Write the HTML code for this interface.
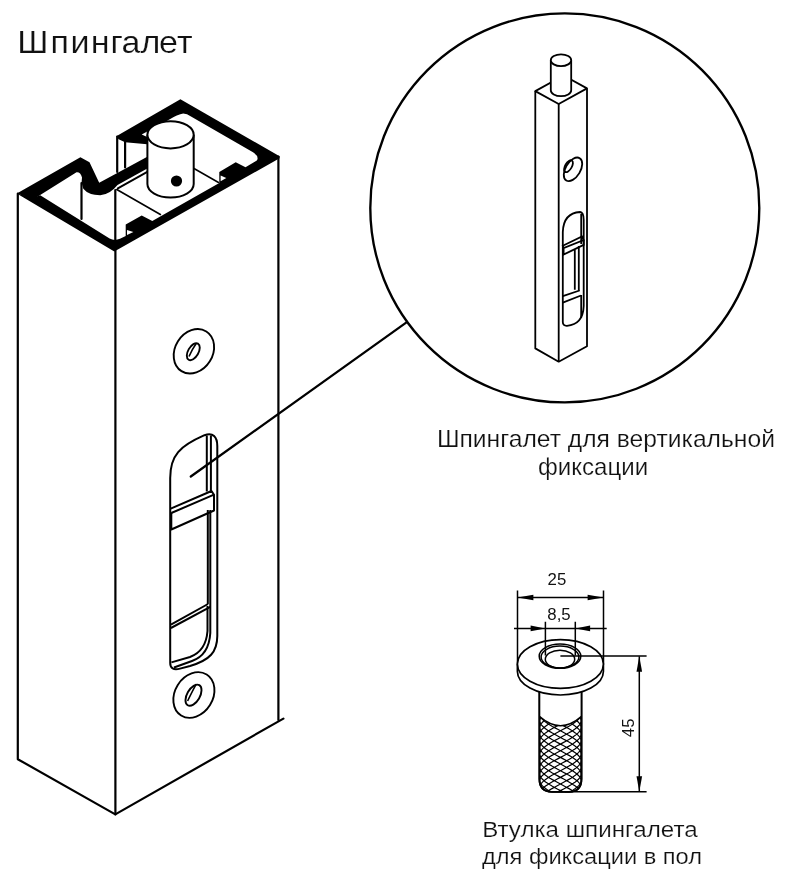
<!DOCTYPE html>
<html><head><meta charset="utf-8">
<style>
html,body{margin:0;padding:0;background:#fff;}
body{width:795px;height:875px;overflow:hidden;position:relative;}
svg{position:absolute;left:0;top:0;}
text{font-family:"Liberation Sans",sans-serif;fill:#111;stroke:#fff;stroke-width:0.2px;}
svg{will-change:transform;}
</style></head><body>
<svg width="795" height="875" viewBox="0 0 795 875">
<!-- Title -->
<text x="16.03 46.70 65.37 84.13 102.24 112.56 130.15 147.34 163.99" y="53" font-size="31.5" transform="scale(1.08,1)">Шпингалет</text>

<!-- ===== MAIN BODY ===== -->
<g fill="none" stroke="#000" stroke-width="2.2" stroke-linejoin="round" stroke-linecap="round">
  <path d="M17.8,193.6 V759.2 L115.3,814.4 L283.4,718.6"/>
  <path d="M115.4,249 V814.4"/>
  <path d="M278.4,156.5 V720"/>
  <!-- inner groove verticals -->
  <path d="M81.5,183 V219"/>
  <path d="M115.3,190 V240"/>
  <path d="M117.2,136.5 V172"/>
  <path d="M125.1,142 V167.5"/>
</g>
<!-- plate lines -->
<g fill="none" stroke="#000" stroke-width="1.6" stroke-linecap="round">
  <path d="M116.8,189.5 L160.4,214.5"/>
  <path d="M117.8,188.4 L147.3,171.8" stroke-width="1.9"/>
  <path d="M194,168.5 L218.5,182.5"/>
</g>

<!-- top profile black fill -->
<path fill="#000" d="M16.8,193.6 L80.4,157.2 L89.5,162.3 L99.2,182.7 L126.1,168.2 L147.3,156.8 L147.3,168.4 L117.5,185 Q110,194.5 100.2,195.3 Q88.5,195.2 83.3,188.8 L81.6,182.5 L82,177.5 Q80.5,171.8 76.5,172.3 L40.2,195 L34,199 Z"/>
<path fill="#000" d="M16.8,193.6 L114.3,251.4 L279.6,158.2 L279.6,156.2 L180.4,99.3 L116.3,136.2 L118.6,139.3 L125.1,142.3 L147.2,144.3 L147.2,137 L141.7,134.4 L168,120.3 Q178,114.2 183.2,113.6 Q187,113.8 191,116.5 L253,152.3 Q259.5,156.5 256.8,160.5 L245.5,167.3 L235.7,162.2 L219.3,172 L219.3,183 L152.3,221 L141.7,215.6 L125.7,224.5 L125.7,236 L120,238.8 Q114.5,241.2 109.6,238.6 L40.2,195.2 L34,197.5 Z"/>
<g fill="#fff" stroke="none">
  <path d="M127,230 L127,235 L133.4,232.1 Z"/>
  <path d="M220.6,175.5 L220.6,181.2 L226.3,178 Z"/>
</g>

<!-- cylinder -->
<g fill="#fff" stroke="#000" stroke-width="2">
  <path d="M147.4,134.8 V184 A23.15,13.6 0 0 0 193.7,184 V134.8"/>
  <ellipse cx="170.55" cy="134.8" rx="23.15" ry="13.6"/>
</g>
<circle cx="176.5" cy="181" r="5.6" fill="#000"/>

<!-- screw holes -->
<g fill="none" stroke="#000" stroke-width="1.9">
  <ellipse cx="193.9" cy="351.3" rx="18.8" ry="23.4" transform="rotate(32 193.9 351.3)"/>
  <ellipse cx="193.3" cy="351.7" rx="5.2" ry="9.3" transform="rotate(30 193.3 351.7)"/>
  <ellipse cx="193.9" cy="695" rx="19" ry="24.1" transform="rotate(32 193.9 695)"/>
  <ellipse cx="193.5" cy="695.2" rx="6.4" ry="11.6" transform="rotate(30 193.5 695.2)"/>
</g>
<g fill="none" stroke="#000" stroke-width="1.6">
  <path d="M189,356.5 Q192.3,349 196.2,343.5"/>
  <path d="M187.6,701 Q192.5,691 196.2,684.2"/>
</g>

<!-- slot -->
<g fill="none" stroke="#000" stroke-width="2" stroke-linejoin="round">
  <path d="M170.2,663 V478 C170.2,455 180,446 204.5,435.2 C213,432 217.3,437 217.3,446 V636 C217.2,652 210,660 190,666 L180,668.6 Q170.2,671 170.2,663 Z"/>
  <path d="M206.8,435.5 V491.5"/>
  <path d="M210.9,435.5 V493"/>
  <path d="M207.8,510 V604"/>
  <path d="M210.3,510 V607"/>
  <path d="M170.7,508.6 L211.5,491 L214,494.7 L171.3,513"/>
  <path d="M171.3,513 V529.5 L214,510.5 V494.7"/>
  <path d="M170.9,624.6 L208,604"/>
  <path d="M170.9,628 L210.3,606.9"/>
  <path d="M207.5,606 V631 Q206,651 190,657 L171.4,662.4"/>
  <path d="M210.3,607 V633 Q209,655 192,661 L174,667.5"/>
</g>
<!-- leader line -->
<path d="M190.8,476.5 L406.5,322.4" stroke="#000" stroke-width="2.3" fill="none" stroke-linecap="round"/>

<!-- ===== BIG CIRCLE ===== -->
<circle cx="564.8" cy="207.9" r="194.5" fill="none" stroke="#000" stroke-width="2.35"/>

<!-- bolt -->
<g fill="none" stroke="#000" stroke-width="1.8" stroke-linejoin="round">
  <path d="M535.3,91.1 V348.4 L558.7,361.7 L587,346.3 V88.4"/>
  <path d="M558.7,104 V361.7"/>
  <path d="M535.3,91.1 L558.7,104 L587,88.4 L563.6,75.5 Z"/>
</g>
<g fill="#fff" stroke="#000" stroke-width="1.8">
  <path d="M550.8,60.2 V90.3 A10.2,5.9 0 0 0 571.2,90.3 V60.2"/>
  <ellipse cx="561" cy="60.2" rx="10.2" ry="5.9"/>
</g>
<g fill="none" stroke="#000" stroke-width="1.8">
  <ellipse cx="573" cy="169.3" rx="7.4" ry="13" transform="rotate(31 573 169.3)"/>
  <ellipse cx="568.5" cy="166.2" rx="3.3" ry="6.6" transform="rotate(31 568.5 166.2)"/>
  <path d="M562.8,322 V232 Q563.5,213 580,212 Q583.7,212.5 583.7,220 V306 Q583,324.5 567,325.8 Q562.8,326 562.8,322 Z"/>
  <path d="M581.2,214 V244 M581.2,295 V318"/>
  <path d="M562.8,245.7 L582,236.5 L583.7,240 L563.6,248 Z M563.6,248 V254.5 L583.7,244.9 V240"/>
  <path d="M562.8,296.2 L579.6,290.5 M562.8,302.6 L581,295.5"/>
  <path d="M574.8,249.7 V289.7 M578.8,246 V291"/>
</g>

<!-- labels -->
<text x="436.9" y="447" font-size="24" textLength="338.04" lengthAdjust="spacingAndGlyphs">Шпингалет для вертикальной</text>
<text x="538" y="475" font-size="24" textLength="110.06" lengthAdjust="spacingAndGlyphs">фиксации</text>

<!-- ===== BUSHING ===== -->
<g fill="none" stroke="#000" stroke-width="1.5">
  <path d="M517.5,590.6 V664 M603.5,590.6 V664"/>
  <path d="M517.5,597.5 H603.5"/>
  <path d="M514,628.4 H606.7"/>
  <path d="M639.3,656.3 V791.8"/>
  <path d="M565,791.8 H646.6"/>
</g>
<g fill="#000">
  <path d="M517.5,597.5 L533.4,594.7 L533.4,600.3 Z"/>
  <path d="M603.5,597.5 L587.6,594.7 L587.6,600.3 Z"/>
  <path d="M545.4,628.4 L530.6,625.6 L530.6,631.2 Z"/>
  <path d="M575.3,628.4 L590.1,625.6 L590.1,631.2 Z"/>
  <path d="M639.3,656.3 L636.5,671.8 L642.1,671.8 Z"/>
  <path d="M639.3,791.8 L636.5,776.3 L642.1,776.3 Z"/>
</g>
<defs><clipPath id="shank"><path d="M539.4,690 V779 Q539.4,791.8 552,791.8 H569 Q581.5,791.8 581.5,779 V690 Z"/></clipPath></defs>
<g fill="#fff" stroke="#000" stroke-width="1.7">
  <path d="M539.4,690 V779 Q539.4,791.8 552,791.8 H569 Q581.5,791.8 581.5,779 V690"/>
</g>
<g clip-path="url(#shank)" fill="none" stroke="#000" stroke-width="1.2">
  <path d="M539.40,633.50 L539.58,634.96 L540.12,636.42 L541.00,637.88 L542.22,639.33 L543.75,640.79 L545.57,642.25 L547.64,643.71 L549.93,645.17 L552.39,646.62 L555.00,648.08 L557.70,649.54 L560.45,651.00 L563.20,652.46 L565.90,653.92 L568.51,655.38 L570.98,656.83 L573.26,658.29 L575.33,659.75 L577.15,661.21 L578.68,662.67 L579.90,664.12 L580.78,665.58 L581.32,667.04 L581.50,668.50 M581.50,633.50 L581.32,634.96 L580.78,636.42 L579.90,637.88 L578.68,639.33 L577.15,640.79 L575.33,642.25 L573.26,643.71 L570.98,645.17 L568.51,646.62 L565.90,648.08 L563.20,649.54 L560.45,651.00 L557.70,652.46 L555.00,653.92 L552.39,655.38 L549.93,656.83 L547.64,658.29 L545.57,659.75 L543.75,661.21 L542.22,662.67 L541.00,664.12 L540.12,665.58 L539.58,667.04 L539.40,668.50 M539.40,640.15 L539.58,641.61 L540.12,643.07 L541.00,644.52 L542.22,645.98 L543.75,647.44 L545.57,648.90 L547.64,650.36 L549.93,651.82 L552.39,653.27 L555.00,654.73 L557.70,656.19 L560.45,657.65 L563.20,659.11 L565.90,660.57 L568.51,662.02 L570.98,663.48 L573.26,664.94 L575.33,666.40 L577.15,667.86 L578.68,669.32 L579.90,670.77 L580.78,672.23 L581.32,673.69 L581.50,675.15 M581.50,640.15 L581.32,641.61 L580.78,643.07 L579.90,644.52 L578.68,645.98 L577.15,647.44 L575.33,648.90 L573.26,650.36 L570.98,651.82 L568.51,653.27 L565.90,654.73 L563.20,656.19 L560.45,657.65 L557.70,659.11 L555.00,660.57 L552.39,662.02 L549.93,663.48 L547.64,664.94 L545.57,666.40 L543.75,667.86 L542.22,669.32 L541.00,670.77 L540.12,672.23 L539.58,673.69 L539.40,675.15 M539.40,646.80 L539.58,648.26 L540.12,649.72 L541.00,651.17 L542.22,652.63 L543.75,654.09 L545.57,655.55 L547.64,657.01 L549.93,658.47 L552.39,659.92 L555.00,661.38 L557.70,662.84 L560.45,664.30 L563.20,665.76 L565.90,667.22 L568.51,668.67 L570.98,670.13 L573.26,671.59 L575.33,673.05 L577.15,674.51 L578.68,675.97 L579.90,677.42 L580.78,678.88 L581.32,680.34 L581.50,681.80 M581.50,646.80 L581.32,648.26 L580.78,649.72 L579.90,651.17 L578.68,652.63 L577.15,654.09 L575.33,655.55 L573.26,657.01 L570.98,658.47 L568.51,659.92 L565.90,661.38 L563.20,662.84 L560.45,664.30 L557.70,665.76 L555.00,667.22 L552.39,668.67 L549.93,670.13 L547.64,671.59 L545.57,673.05 L543.75,674.51 L542.22,675.97 L541.00,677.42 L540.12,678.88 L539.58,680.34 L539.40,681.80 M539.40,653.45 L539.58,654.91 L540.12,656.37 L541.00,657.83 L542.22,659.28 L543.75,660.74 L545.57,662.20 L547.64,663.66 L549.93,665.12 L552.39,666.58 L555.00,668.03 L557.70,669.49 L560.45,670.95 L563.20,672.41 L565.90,673.87 L568.51,675.33 L570.98,676.78 L573.26,678.24 L575.33,679.70 L577.15,681.16 L578.68,682.62 L579.90,684.08 L580.78,685.53 L581.32,686.99 L581.50,688.45 M581.50,653.45 L581.32,654.91 L580.78,656.37 L579.90,657.83 L578.68,659.28 L577.15,660.74 L575.33,662.20 L573.26,663.66 L570.98,665.12 L568.51,666.58 L565.90,668.03 L563.20,669.49 L560.45,670.95 L557.70,672.41 L555.00,673.87 L552.39,675.33 L549.93,676.78 L547.64,678.24 L545.57,679.70 L543.75,681.16 L542.22,682.62 L541.00,684.08 L540.12,685.53 L539.58,686.99 L539.40,688.45 M539.40,660.10 L539.58,661.56 L540.12,663.02 L541.00,664.48 L542.22,665.93 L543.75,667.39 L545.57,668.85 L547.64,670.31 L549.93,671.77 L552.39,673.23 L555.00,674.68 L557.70,676.14 L560.45,677.60 L563.20,679.06 L565.90,680.52 L568.51,681.98 L570.98,683.43 L573.26,684.89 L575.33,686.35 L577.15,687.81 L578.68,689.27 L579.90,690.73 L580.78,692.18 L581.32,693.64 L581.50,695.10 M581.50,660.10 L581.32,661.56 L580.78,663.02 L579.90,664.48 L578.68,665.93 L577.15,667.39 L575.33,668.85 L573.26,670.31 L570.98,671.77 L568.51,673.23 L565.90,674.68 L563.20,676.14 L560.45,677.60 L557.70,679.06 L555.00,680.52 L552.39,681.98 L549.93,683.43 L547.64,684.89 L545.57,686.35 L543.75,687.81 L542.22,689.27 L541.00,690.73 L540.12,692.18 L539.58,693.64 L539.40,695.10 M539.40,666.75 L539.58,668.21 L540.12,669.67 L541.00,671.12 L542.22,672.58 L543.75,674.04 L545.57,675.50 L547.64,676.96 L549.93,678.42 L552.39,679.88 L555.00,681.33 L557.70,682.79 L560.45,684.25 L563.20,685.71 L565.90,687.17 L568.51,688.62 L570.98,690.08 L573.26,691.54 L575.33,693.00 L577.15,694.46 L578.68,695.92 L579.90,697.38 L580.78,698.83 L581.32,700.29 L581.50,701.75 M581.50,666.75 L581.32,668.21 L580.78,669.67 L579.90,671.12 L578.68,672.58 L577.15,674.04 L575.33,675.50 L573.26,676.96 L570.98,678.42 L568.51,679.88 L565.90,681.33 L563.20,682.79 L560.45,684.25 L557.70,685.71 L555.00,687.17 L552.39,688.62 L549.93,690.08 L547.64,691.54 L545.57,693.00 L543.75,694.46 L542.22,695.92 L541.00,697.38 L540.12,698.83 L539.58,700.29 L539.40,701.75 M539.40,673.40 L539.58,674.86 L540.12,676.32 L541.00,677.77 L542.22,679.23 L543.75,680.69 L545.57,682.15 L547.64,683.61 L549.93,685.07 L552.39,686.52 L555.00,687.98 L557.70,689.44 L560.45,690.90 L563.20,692.36 L565.90,693.82 L568.51,695.27 L570.98,696.73 L573.26,698.19 L575.33,699.65 L577.15,701.11 L578.68,702.57 L579.90,704.02 L580.78,705.48 L581.32,706.94 L581.50,708.40 M581.50,673.40 L581.32,674.86 L580.78,676.32 L579.90,677.77 L578.68,679.23 L577.15,680.69 L575.33,682.15 L573.26,683.61 L570.98,685.07 L568.51,686.52 L565.90,687.98 L563.20,689.44 L560.45,690.90 L557.70,692.36 L555.00,693.82 L552.39,695.27 L549.93,696.73 L547.64,698.19 L545.57,699.65 L543.75,701.11 L542.22,702.57 L541.00,704.02 L540.12,705.48 L539.58,706.94 L539.40,708.40 M539.40,680.05 L539.58,681.51 L540.12,682.97 L541.00,684.42 L542.22,685.88 L543.75,687.34 L545.57,688.80 L547.64,690.26 L549.93,691.72 L552.39,693.17 L555.00,694.63 L557.70,696.09 L560.45,697.55 L563.20,699.01 L565.90,700.47 L568.51,701.92 L570.98,703.38 L573.26,704.84 L575.33,706.30 L577.15,707.76 L578.68,709.22 L579.90,710.67 L580.78,712.13 L581.32,713.59 L581.50,715.05 M581.50,680.05 L581.32,681.51 L580.78,682.97 L579.90,684.42 L578.68,685.88 L577.15,687.34 L575.33,688.80 L573.26,690.26 L570.98,691.72 L568.51,693.17 L565.90,694.63 L563.20,696.09 L560.45,697.55 L557.70,699.01 L555.00,700.47 L552.39,701.92 L549.93,703.38 L547.64,704.84 L545.57,706.30 L543.75,707.76 L542.22,709.22 L541.00,710.67 L540.12,712.13 L539.58,713.59 L539.40,715.05 M539.40,686.70 L539.58,688.16 L540.12,689.62 L541.00,691.08 L542.22,692.53 L543.75,693.99 L545.57,695.45 L547.64,696.91 L549.93,698.37 L552.39,699.83 L555.00,701.28 L557.70,702.74 L560.45,704.20 L563.20,705.66 L565.90,707.12 L568.51,708.58 L570.98,710.03 L573.26,711.49 L575.33,712.95 L577.15,714.41 L578.68,715.87 L579.90,717.33 L580.78,718.78 L581.32,720.24 L581.50,721.70 M581.50,686.70 L581.32,688.16 L580.78,689.62 L579.90,691.08 L578.68,692.53 L577.15,693.99 L575.33,695.45 L573.26,696.91 L570.98,698.37 L568.51,699.83 L565.90,701.28 L563.20,702.74 L560.45,704.20 L557.70,705.66 L555.00,707.12 L552.39,708.58 L549.93,710.03 L547.64,711.49 L545.57,712.95 L543.75,714.41 L542.22,715.87 L541.00,717.33 L540.12,718.78 L539.58,720.24 L539.40,721.70 M539.40,693.35 L539.58,694.81 L540.12,696.27 L541.00,697.73 L542.22,699.18 L543.75,700.64 L545.57,702.10 L547.64,703.56 L549.93,705.02 L552.39,706.48 L555.00,707.93 L557.70,709.39 L560.45,710.85 L563.20,712.31 L565.90,713.77 L568.51,715.23 L570.98,716.68 L573.26,718.14 L575.33,719.60 L577.15,721.06 L578.68,722.52 L579.90,723.98 L580.78,725.43 L581.32,726.89 L581.50,728.35 M581.50,693.35 L581.32,694.81 L580.78,696.27 L579.90,697.73 L578.68,699.18 L577.15,700.64 L575.33,702.10 L573.26,703.56 L570.98,705.02 L568.51,706.48 L565.90,707.93 L563.20,709.39 L560.45,710.85 L557.70,712.31 L555.00,713.77 L552.39,715.23 L549.93,716.68 L547.64,718.14 L545.57,719.60 L543.75,721.06 L542.22,722.52 L541.00,723.98 L540.12,725.43 L539.58,726.89 L539.40,728.35 M539.40,700.00 L539.58,701.46 L540.12,702.92 L541.00,704.38 L542.22,705.83 L543.75,707.29 L545.57,708.75 L547.64,710.21 L549.93,711.67 L552.39,713.12 L555.00,714.58 L557.70,716.04 L560.45,717.50 L563.20,718.96 L565.90,720.42 L568.51,721.88 L570.98,723.33 L573.26,724.79 L575.33,726.25 L577.15,727.71 L578.68,729.17 L579.90,730.62 L580.78,732.08 L581.32,733.54 L581.50,735.00 M581.50,700.00 L581.32,701.46 L580.78,702.92 L579.90,704.38 L578.68,705.83 L577.15,707.29 L575.33,708.75 L573.26,710.21 L570.98,711.67 L568.51,713.12 L565.90,714.58 L563.20,716.04 L560.45,717.50 L557.70,718.96 L555.00,720.42 L552.39,721.88 L549.93,723.33 L547.64,724.79 L545.57,726.25 L543.75,727.71 L542.22,729.17 L541.00,730.62 L540.12,732.08 L539.58,733.54 L539.40,735.00 M539.40,706.65 L539.58,708.11 L540.12,709.57 L541.00,711.02 L542.22,712.48 L543.75,713.94 L545.57,715.40 L547.64,716.86 L549.93,718.32 L552.39,719.77 L555.00,721.23 L557.70,722.69 L560.45,724.15 L563.20,725.61 L565.90,727.07 L568.51,728.52 L570.98,729.98 L573.26,731.44 L575.33,732.90 L577.15,734.36 L578.68,735.82 L579.90,737.27 L580.78,738.73 L581.32,740.19 L581.50,741.65 M581.50,706.65 L581.32,708.11 L580.78,709.57 L579.90,711.02 L578.68,712.48 L577.15,713.94 L575.33,715.40 L573.26,716.86 L570.98,718.32 L568.51,719.77 L565.90,721.23 L563.20,722.69 L560.45,724.15 L557.70,725.61 L555.00,727.07 L552.39,728.52 L549.93,729.98 L547.64,731.44 L545.57,732.90 L543.75,734.36 L542.22,735.82 L541.00,737.27 L540.12,738.73 L539.58,740.19 L539.40,741.65 M539.40,713.30 L539.58,714.76 L540.12,716.22 L541.00,717.67 L542.22,719.13 L543.75,720.59 L545.57,722.05 L547.64,723.51 L549.93,724.97 L552.39,726.42 L555.00,727.88 L557.70,729.34 L560.45,730.80 L563.20,732.26 L565.90,733.72 L568.51,735.17 L570.98,736.63 L573.26,738.09 L575.33,739.55 L577.15,741.01 L578.68,742.47 L579.90,743.92 L580.78,745.38 L581.32,746.84 L581.50,748.30 M581.50,713.30 L581.32,714.76 L580.78,716.22 L579.90,717.67 L578.68,719.13 L577.15,720.59 L575.33,722.05 L573.26,723.51 L570.98,724.97 L568.51,726.42 L565.90,727.88 L563.20,729.34 L560.45,730.80 L557.70,732.26 L555.00,733.72 L552.39,735.17 L549.93,736.63 L547.64,738.09 L545.57,739.55 L543.75,741.01 L542.22,742.47 L541.00,743.92 L540.12,745.38 L539.58,746.84 L539.40,748.30 M539.40,719.95 L539.58,721.41 L540.12,722.87 L541.00,724.33 L542.22,725.78 L543.75,727.24 L545.57,728.70 L547.64,730.16 L549.93,731.62 L552.39,733.08 L555.00,734.53 L557.70,735.99 L560.45,737.45 L563.20,738.91 L565.90,740.37 L568.51,741.83 L570.98,743.28 L573.26,744.74 L575.33,746.20 L577.15,747.66 L578.68,749.12 L579.90,750.58 L580.78,752.03 L581.32,753.49 L581.50,754.95 M581.50,719.95 L581.32,721.41 L580.78,722.87 L579.90,724.33 L578.68,725.78 L577.15,727.24 L575.33,728.70 L573.26,730.16 L570.98,731.62 L568.51,733.08 L565.90,734.53 L563.20,735.99 L560.45,737.45 L557.70,738.91 L555.00,740.37 L552.39,741.83 L549.93,743.28 L547.64,744.74 L545.57,746.20 L543.75,747.66 L542.22,749.12 L541.00,750.58 L540.12,752.03 L539.58,753.49 L539.40,754.95 M539.40,726.60 L539.58,728.06 L540.12,729.52 L541.00,730.98 L542.22,732.43 L543.75,733.89 L545.57,735.35 L547.64,736.81 L549.93,738.27 L552.39,739.73 L555.00,741.18 L557.70,742.64 L560.45,744.10 L563.20,745.56 L565.90,747.02 L568.51,748.48 L570.98,749.93 L573.26,751.39 L575.33,752.85 L577.15,754.31 L578.68,755.77 L579.90,757.23 L580.78,758.68 L581.32,760.14 L581.50,761.60 M581.50,726.60 L581.32,728.06 L580.78,729.52 L579.90,730.98 L578.68,732.43 L577.15,733.89 L575.33,735.35 L573.26,736.81 L570.98,738.27 L568.51,739.73 L565.90,741.18 L563.20,742.64 L560.45,744.10 L557.70,745.56 L555.00,747.02 L552.39,748.48 L549.93,749.93 L547.64,751.39 L545.57,752.85 L543.75,754.31 L542.22,755.77 L541.00,757.23 L540.12,758.68 L539.58,760.14 L539.40,761.60 M539.40,733.25 L539.58,734.71 L540.12,736.17 L541.00,737.62 L542.22,739.08 L543.75,740.54 L545.57,742.00 L547.64,743.46 L549.93,744.92 L552.39,746.38 L555.00,747.83 L557.70,749.29 L560.45,750.75 L563.20,752.21 L565.90,753.67 L568.51,755.12 L570.98,756.58 L573.26,758.04 L575.33,759.50 L577.15,760.96 L578.68,762.42 L579.90,763.88 L580.78,765.33 L581.32,766.79 L581.50,768.25 M581.50,733.25 L581.32,734.71 L580.78,736.17 L579.90,737.62 L578.68,739.08 L577.15,740.54 L575.33,742.00 L573.26,743.46 L570.98,744.92 L568.51,746.38 L565.90,747.83 L563.20,749.29 L560.45,750.75 L557.70,752.21 L555.00,753.67 L552.39,755.12 L549.93,756.58 L547.64,758.04 L545.57,759.50 L543.75,760.96 L542.22,762.42 L541.00,763.88 L540.12,765.33 L539.58,766.79 L539.40,768.25 M539.40,739.90 L539.58,741.36 L540.12,742.82 L541.00,744.27 L542.22,745.73 L543.75,747.19 L545.57,748.65 L547.64,750.11 L549.93,751.57 L552.39,753.02 L555.00,754.48 L557.70,755.94 L560.45,757.40 L563.20,758.86 L565.90,760.32 L568.51,761.77 L570.98,763.23 L573.26,764.69 L575.33,766.15 L577.15,767.61 L578.68,769.07 L579.90,770.52 L580.78,771.98 L581.32,773.44 L581.50,774.90 M581.50,739.90 L581.32,741.36 L580.78,742.82 L579.90,744.27 L578.68,745.73 L577.15,747.19 L575.33,748.65 L573.26,750.11 L570.98,751.57 L568.51,753.02 L565.90,754.48 L563.20,755.94 L560.45,757.40 L557.70,758.86 L555.00,760.32 L552.39,761.77 L549.93,763.23 L547.64,764.69 L545.57,766.15 L543.75,767.61 L542.22,769.07 L541.00,770.52 L540.12,771.98 L539.58,773.44 L539.40,774.90 M539.40,746.55 L539.58,748.01 L540.12,749.47 L541.00,750.92 L542.22,752.38 L543.75,753.84 L545.57,755.30 L547.64,756.76 L549.93,758.22 L552.39,759.67 L555.00,761.13 L557.70,762.59 L560.45,764.05 L563.20,765.51 L565.90,766.97 L568.51,768.42 L570.98,769.88 L573.26,771.34 L575.33,772.80 L577.15,774.26 L578.68,775.72 L579.90,777.17 L580.78,778.63 L581.32,780.09 L581.50,781.55 M581.50,746.55 L581.32,748.01 L580.78,749.47 L579.90,750.92 L578.68,752.38 L577.15,753.84 L575.33,755.30 L573.26,756.76 L570.98,758.22 L568.51,759.67 L565.90,761.13 L563.20,762.59 L560.45,764.05 L557.70,765.51 L555.00,766.97 L552.39,768.42 L549.93,769.88 L547.64,771.34 L545.57,772.80 L543.75,774.26 L542.22,775.72 L541.00,777.17 L540.12,778.63 L539.58,780.09 L539.40,781.55 M539.40,753.20 L539.58,754.66 L540.12,756.12 L541.00,757.58 L542.22,759.03 L543.75,760.49 L545.57,761.95 L547.64,763.41 L549.93,764.87 L552.39,766.33 L555.00,767.78 L557.70,769.24 L560.45,770.70 L563.20,772.16 L565.90,773.62 L568.51,775.08 L570.98,776.53 L573.26,777.99 L575.33,779.45 L577.15,780.91 L578.68,782.37 L579.90,783.83 L580.78,785.28 L581.32,786.74 L581.50,788.20 M581.50,753.20 L581.32,754.66 L580.78,756.12 L579.90,757.58 L578.68,759.03 L577.15,760.49 L575.33,761.95 L573.26,763.41 L570.98,764.87 L568.51,766.33 L565.90,767.78 L563.20,769.24 L560.45,770.70 L557.70,772.16 L555.00,773.62 L552.39,775.08 L549.93,776.53 L547.64,777.99 L545.57,779.45 L543.75,780.91 L542.22,782.37 L541.00,783.83 L540.12,785.28 L539.58,786.74 L539.40,788.20 M539.40,759.85 L539.58,761.31 L540.12,762.77 L541.00,764.23 L542.22,765.68 L543.75,767.14 L545.57,768.60 L547.64,770.06 L549.93,771.52 L552.39,772.98 L555.00,774.43 L557.70,775.89 L560.45,777.35 L563.20,778.81 L565.90,780.27 L568.51,781.73 L570.98,783.18 L573.26,784.64 L575.33,786.10 L577.15,787.56 L578.68,789.02 L579.90,790.48 L580.78,791.93 L581.32,793.39 L581.50,794.85 M581.50,759.85 L581.32,761.31 L580.78,762.77 L579.90,764.23 L578.68,765.68 L577.15,767.14 L575.33,768.60 L573.26,770.06 L570.98,771.52 L568.51,772.98 L565.90,774.43 L563.20,775.89 L560.45,777.35 L557.70,778.81 L555.00,780.27 L552.39,781.73 L549.93,783.18 L547.64,784.64 L545.57,786.10 L543.75,787.56 L542.22,789.02 L541.00,790.48 L540.12,791.93 L539.58,793.39 L539.40,794.85 M539.40,766.50 L539.58,767.96 L540.12,769.42 L541.00,770.88 L542.22,772.33 L543.75,773.79 L545.57,775.25 L547.64,776.71 L549.93,778.17 L552.39,779.62 L555.00,781.08 L557.70,782.54 L560.45,784.00 L563.20,785.46 L565.90,786.92 L568.51,788.38 L570.98,789.83 L573.26,791.29 L575.33,792.75 L577.15,794.21 L578.68,795.67 L579.90,797.12 L580.78,798.58 L581.32,800.04 L581.50,801.50 M581.50,766.50 L581.32,767.96 L580.78,769.42 L579.90,770.88 L578.68,772.33 L577.15,773.79 L575.33,775.25 L573.26,776.71 L570.98,778.17 L568.51,779.62 L565.90,781.08 L563.20,782.54 L560.45,784.00 L557.70,785.46 L555.00,786.92 L552.39,788.38 L549.93,789.83 L547.64,791.29 L545.57,792.75 L543.75,794.21 L542.22,795.67 L541.00,797.12 L540.12,798.58 L539.58,800.04 L539.40,801.50 M539.40,773.15 L539.58,774.61 L540.12,776.07 L541.00,777.52 L542.22,778.98 L543.75,780.44 L545.57,781.90 L547.64,783.36 L549.93,784.82 L552.39,786.27 L555.00,787.73 L557.70,789.19 L560.45,790.65 L563.20,792.11 L565.90,793.57 L568.51,795.02 L570.98,796.48 L573.26,797.94 L575.33,799.40 L577.15,800.86 L578.68,802.32 L579.90,803.77 L580.78,805.23 L581.32,806.69 L581.50,808.15 M581.50,773.15 L581.32,774.61 L580.78,776.07 L579.90,777.52 L578.68,778.98 L577.15,780.44 L575.33,781.90 L573.26,783.36 L570.98,784.82 L568.51,786.27 L565.90,787.73 L563.20,789.19 L560.45,790.65 L557.70,792.11 L555.00,793.57 L552.39,795.02 L549.93,796.48 L547.64,797.94 L545.57,799.40 L543.75,800.86 L542.22,802.32 L541.00,803.77 L540.12,805.23 L539.58,806.69 L539.40,808.15 M539.40,779.80 L539.58,781.26 L540.12,782.72 L541.00,784.17 L542.22,785.63 L543.75,787.09 L545.57,788.55 L547.64,790.01 L549.93,791.47 L552.39,792.92 L555.00,794.38 L557.70,795.84 L560.45,797.30 L563.20,798.76 L565.90,800.22 L568.51,801.67 L570.98,803.13 L573.26,804.59 L575.33,806.05 L577.15,807.51 L578.68,808.97 L579.90,810.42 L580.78,811.88 L581.32,813.34 L581.50,814.80 M581.50,779.80 L581.32,781.26 L580.78,782.72 L579.90,784.17 L578.68,785.63 L577.15,787.09 L575.33,788.55 L573.26,790.01 L570.98,791.47 L568.51,792.92 L565.90,794.38 L563.20,795.84 L560.45,797.30 L557.70,798.76 L555.00,800.22 L552.39,801.67 L549.93,803.13 L547.64,804.59 L545.57,806.05 L543.75,807.51 L542.22,808.97 L541.00,810.42 L540.12,811.88 L539.58,813.34 L539.40,814.80 M539.40,786.45 L539.58,787.91 L540.12,789.37 L541.00,790.83 L542.22,792.28 L543.75,793.74 L545.57,795.20 L547.64,796.66 L549.93,798.12 L552.39,799.58 L555.00,801.03 L557.70,802.49 L560.45,803.95 L563.20,805.41 L565.90,806.87 L568.51,808.33 L570.98,809.78 L573.26,811.24 L575.33,812.70 L577.15,814.16 L578.68,815.62 L579.90,817.08 L580.78,818.53 L581.32,819.99 L581.50,821.45 M581.50,786.45 L581.32,787.91 L580.78,789.37 L579.90,790.83 L578.68,792.28 L577.15,793.74 L575.33,795.20 L573.26,796.66 L570.98,798.12 L568.51,799.58 L565.90,801.03 L563.20,802.49 L560.45,803.95 L557.70,805.41 L555.00,806.87 L552.39,808.33 L549.93,809.78 L547.64,811.24 L545.57,812.70 L543.75,814.16 L542.22,815.62 L541.00,817.08 L540.12,818.53 L539.58,819.99 L539.40,821.45 M539.40,793.10 L539.58,794.56 L540.12,796.02 L541.00,797.48 L542.22,798.93 L543.75,800.39 L545.57,801.85 L547.64,803.31 L549.93,804.77 L552.39,806.23 L555.00,807.68 L557.70,809.14 L560.45,810.60 L563.20,812.06 L565.90,813.52 L568.51,814.98 L570.98,816.43 L573.26,817.89 L575.33,819.35 L577.15,820.81 L578.68,822.27 L579.90,823.73 L580.78,825.18 L581.32,826.64 L581.50,828.10 M581.50,793.10 L581.32,794.56 L580.78,796.02 L579.90,797.48 L578.68,798.93 L577.15,800.39 L575.33,801.85 L573.26,803.31 L570.98,804.77 L568.51,806.23 L565.90,807.68 L563.20,809.14 L560.45,810.60 L557.70,812.06 L555.00,813.52 L552.39,814.98 L549.93,816.43 L547.64,817.89 L545.57,819.35 L543.75,820.81 L542.22,822.27 L541.00,823.73 L540.12,825.18 L539.58,826.64 L539.40,828.10 M539.40,799.75 L539.58,801.21 L540.12,802.67 L541.00,804.12 L542.22,805.58 L543.75,807.04 L545.57,808.50 L547.64,809.96 L549.93,811.42 L552.39,812.88 L555.00,814.33 L557.70,815.79 L560.45,817.25 L563.20,818.71 L565.90,820.17 L568.51,821.62 L570.98,823.08 L573.26,824.54 L575.33,826.00 L577.15,827.46 L578.68,828.92 L579.90,830.38 L580.78,831.83 L581.32,833.29 L581.50,834.75 M581.50,799.75 L581.32,801.21 L580.78,802.67 L579.90,804.12 L578.68,805.58 L577.15,807.04 L575.33,808.50 L573.26,809.96 L570.98,811.42 L568.51,812.88 L565.90,814.33 L563.20,815.79 L560.45,817.25 L557.70,818.71 L555.00,820.17 L552.39,821.62 L549.93,823.08 L547.64,824.54 L545.57,826.00 L543.75,827.46 L542.22,828.92 L541.00,830.38 L540.12,831.83 L539.58,833.29 L539.40,834.75 M539.40,806.40 L539.58,807.86 L540.12,809.32 L541.00,810.77 L542.22,812.23 L543.75,813.69 L545.57,815.15 L547.64,816.61 L549.93,818.07 L552.39,819.52 L555.00,820.98 L557.70,822.44 L560.45,823.90 L563.20,825.36 L565.90,826.82 L568.51,828.27 L570.98,829.73 L573.26,831.19 L575.33,832.65 L577.15,834.11 L578.68,835.57 L579.90,837.02 L580.78,838.48 L581.32,839.94 L581.50,841.40 M581.50,806.40 L581.32,807.86 L580.78,809.32 L579.90,810.77 L578.68,812.23 L577.15,813.69 L575.33,815.15 L573.26,816.61 L570.98,818.07 L568.51,819.52 L565.90,820.98 L563.20,822.44 L560.45,823.90 L557.70,825.36 L555.00,826.82 L552.39,828.27 L549.93,829.73 L547.64,831.19 L545.57,832.65 L543.75,834.11 L542.22,835.57 L541.00,837.02 L540.12,838.48 L539.58,839.94 L539.40,841.40 M539.40,813.05 L539.58,814.51 L540.12,815.97 L541.00,817.42 L542.22,818.88 L543.75,820.34 L545.57,821.80 L547.64,823.26 L549.93,824.72 L552.39,826.17 L555.00,827.63 L557.70,829.09 L560.45,830.55 L563.20,832.01 L565.90,833.47 L568.51,834.92 L570.98,836.38 L573.26,837.84 L575.33,839.30 L577.15,840.76 L578.68,842.22 L579.90,843.67 L580.78,845.13 L581.32,846.59 L581.50,848.05 M581.50,813.05 L581.32,814.51 L580.78,815.97 L579.90,817.42 L578.68,818.88 L577.15,820.34 L575.33,821.80 L573.26,823.26 L570.98,824.72 L568.51,826.17 L565.90,827.63 L563.20,829.09 L560.45,830.55 L557.70,832.01 L555.00,833.47 L552.39,834.92 L549.93,836.38 L547.64,837.84 L545.57,839.30 L543.75,840.76 L542.22,842.22 L541.00,843.67 L540.12,845.13 L539.58,846.59 L539.40,848.05 M539.40,819.70 L539.58,821.16 L540.12,822.62 L541.00,824.08 L542.22,825.53 L543.75,826.99 L545.57,828.45 L547.64,829.91 L549.93,831.37 L552.39,832.83 L555.00,834.28 L557.70,835.74 L560.45,837.20 L563.20,838.66 L565.90,840.12 L568.51,841.58 L570.98,843.03 L573.26,844.49 L575.33,845.95 L577.15,847.41 L578.68,848.87 L579.90,850.33 L580.78,851.78 L581.32,853.24 L581.50,854.70 M581.50,819.70 L581.32,821.16 L580.78,822.62 L579.90,824.08 L578.68,825.53 L577.15,826.99 L575.33,828.45 L573.26,829.91 L570.98,831.37 L568.51,832.83 L565.90,834.28 L563.20,835.74 L560.45,837.20 L557.70,838.66 L555.00,840.12 L552.39,841.58 L549.93,843.03 L547.64,844.49 L545.57,845.95 L543.75,847.41 L542.22,848.87 L541.00,850.33 L540.12,851.78 L539.58,853.24 L539.40,854.70 M539.40,826.35 L539.58,827.81 L540.12,829.27 L541.00,830.73 L542.22,832.18 L543.75,833.64 L545.57,835.10 L547.64,836.56 L549.93,838.02 L552.39,839.48 L555.00,840.93 L557.70,842.39 L560.45,843.85 L563.20,845.31 L565.90,846.77 L568.51,848.23 L570.98,849.68 L573.26,851.14 L575.33,852.60 L577.15,854.06 L578.68,855.52 L579.90,856.98 L580.78,858.43 L581.32,859.89 L581.50,861.35 M581.50,826.35 L581.32,827.81 L580.78,829.27 L579.90,830.73 L578.68,832.18 L577.15,833.64 L575.33,835.10 L573.26,836.56 L570.98,838.02 L568.51,839.48 L565.90,840.93 L563.20,842.39 L560.45,843.85 L557.70,845.31 L555.00,846.77 L552.39,848.23 L549.93,849.68 L547.64,851.14 L545.57,852.60 L543.75,854.06 L542.22,855.52 L541.00,856.98 L540.12,858.43 L539.58,859.89 L539.40,861.35 M539.40,833.00 L539.58,834.46 L540.12,835.92 L541.00,837.38 L542.22,838.83 L543.75,840.29 L545.57,841.75 L547.64,843.21 L549.93,844.67 L552.39,846.12 L555.00,847.58 L557.70,849.04 L560.45,850.50 L563.20,851.96 L565.90,853.42 L568.51,854.88 L570.98,856.33 L573.26,857.79 L575.33,859.25 L577.15,860.71 L578.68,862.17 L579.90,863.62 L580.78,865.08 L581.32,866.54 L581.50,868.00 M581.50,833.00 L581.32,834.46 L580.78,835.92 L579.90,837.38 L578.68,838.83 L577.15,840.29 L575.33,841.75 L573.26,843.21 L570.98,844.67 L568.51,846.12 L565.90,847.58 L563.20,849.04 L560.45,850.50 L557.70,851.96 L555.00,853.42 L552.39,854.88 L549.93,856.33 L547.64,857.79 L545.57,859.25 L543.75,860.71 L542.22,862.17 L541.00,863.62 L540.12,865.08 L539.58,866.54 L539.40,868.00 M539.40,839.65 L539.58,841.11 L540.12,842.57 L541.00,844.02 L542.22,845.48 L543.75,846.94 L545.57,848.40 L547.64,849.86 L549.93,851.32 L552.39,852.77 L555.00,854.23 L557.70,855.69 L560.45,857.15 L563.20,858.61 L565.90,860.07 L568.51,861.52 L570.98,862.98 L573.26,864.44 L575.33,865.90 L577.15,867.36 L578.68,868.82 L579.90,870.27 L580.78,871.73 L581.32,873.19 L581.50,874.65 M581.50,839.65 L581.32,841.11 L580.78,842.57 L579.90,844.02 L578.68,845.48 L577.15,846.94 L575.33,848.40 L573.26,849.86 L570.98,851.32 L568.51,852.77 L565.90,854.23 L563.20,855.69 L560.45,857.15 L557.70,858.61 L555.00,860.07 L552.39,861.52 L549.93,862.98 L547.64,864.44 L545.57,865.90 L543.75,867.36 L542.22,868.82 L541.00,870.27 L540.12,871.73 L539.58,873.19 L539.40,874.65 M539.40,846.30 L539.58,847.76 L540.12,849.22 L541.00,850.67 L542.22,852.13 L543.75,853.59 L545.57,855.05 L547.64,856.51 L549.93,857.97 L552.39,859.42 L555.00,860.88 L557.70,862.34 L560.45,863.80 L563.20,865.26 L565.90,866.72 L568.51,868.17 L570.98,869.63 L573.26,871.09 L575.33,872.55 L577.15,874.01 L578.68,875.47 L579.90,876.92 L580.78,878.38 L581.32,879.84 L581.50,881.30 M581.50,846.30 L581.32,847.76 L580.78,849.22 L579.90,850.67 L578.68,852.13 L577.15,853.59 L575.33,855.05 L573.26,856.51 L570.98,857.97 L568.51,859.42 L565.90,860.88 L563.20,862.34 L560.45,863.80 L557.70,865.26 L555.00,866.72 L552.39,868.17 L549.93,869.63 L547.64,871.09 L545.57,872.55 L543.75,874.01 L542.22,875.47 L541.00,876.92 L540.12,878.38 L539.58,879.84 L539.40,881.30 M539.40,852.95 L539.58,854.41 L540.12,855.87 L541.00,857.33 L542.22,858.78 L543.75,860.24 L545.57,861.70 L547.64,863.16 L549.93,864.62 L552.39,866.08 L555.00,867.53 L557.70,868.99 L560.45,870.45 L563.20,871.91 L565.90,873.37 L568.51,874.83 L570.98,876.28 L573.26,877.74 L575.33,879.20 L577.15,880.66 L578.68,882.12 L579.90,883.58 L580.78,885.03 L581.32,886.49 L581.50,887.95 M581.50,852.95 L581.32,854.41 L580.78,855.87 L579.90,857.33 L578.68,858.78 L577.15,860.24 L575.33,861.70 L573.26,863.16 L570.98,864.62 L568.51,866.08 L565.90,867.53 L563.20,868.99 L560.45,870.45 L557.70,871.91 L555.00,873.37 L552.39,874.83 L549.93,876.28 L547.64,877.74 L545.57,879.20 L543.75,880.66 L542.22,882.12 L541.00,883.58 L540.12,885.03 L539.58,886.49 L539.40,887.95"/>
</g>
<path d="M539.4,716.4 Q560.5,735 581.5,716.4" fill="#fff" stroke="none"/>
<path d="M539.4,690 V716.4 Q560.5,735 581.5,716.4 V690 Z" fill="#fff" stroke="none"/>
<path d="M539.4,716.4 Q560.5,735 581.5,716.4" fill="none" stroke="#000" stroke-width="1.5"/>
<path d="M539.4,690 V779 Q539.4,791.8 552,791.8 H569 Q581.5,791.8 581.5,779 V690" fill="none" stroke="#000" stroke-width="1.8"/>
<g fill="#fff" stroke="#000" stroke-width="1.7">
  <path d="M517.4,664 V671.5 A43,23.5 0 0 0 603.4,671.5 V664"/>
  <ellipse cx="560.4" cy="664" rx="43" ry="24.4"/>
</g>
<g fill="none" stroke="#000" stroke-width="1.5">
  <ellipse cx="560" cy="656.2" rx="20.8" ry="12.1"/>
  <ellipse cx="560" cy="657" rx="18.9" ry="10.9"/>
  <ellipse cx="560" cy="659.2" rx="14.7" ry="9"/>
  <path d="M545.4,621.7 V655.5 M575.3,621.7 V655.5"/>
  <path d="M560.4,655.9 H646.6"/>
</g>

<text style="stroke:none" x="556.9" y="585.3" font-size="16.8" text-anchor="middle" fill="#222">25</text>
<text style="stroke:none" x="559" y="619.9" font-size="16.8" text-anchor="middle" fill="#222">8,5</text>
<text style="stroke:none" transform="translate(634,727.8) rotate(-90)" font-size="16.8" text-anchor="middle" fill="#222">45</text>

<text x="482.2" y="837" font-size="22.4" textLength="215.51" lengthAdjust="spacingAndGlyphs">Втулка шпингалета</text>
<text x="482" y="864.2" font-size="22.4" textLength="220.01" lengthAdjust="spacingAndGlyphs">для фиксации в пол</text>
</svg>
</body></html>
